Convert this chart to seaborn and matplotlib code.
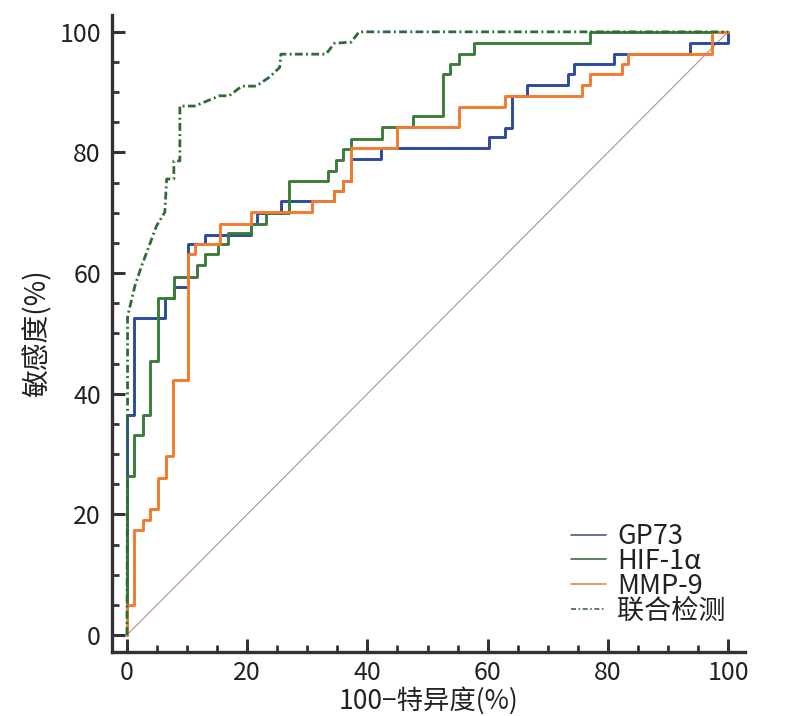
import seaborn as sns
import matplotlib.pyplot as plt
from matplotlib.lines import Line2D
from matplotlib.ticker import MultipleLocator

# Curvas ROC (x = 100-especificidad, y = sensibilidad)
# cada punto: en x se sube hasta y (escalones)
gp73_x = [0, 0, 1.2, 6.4, 7.9, 10.2, 12.9, 20.7, 21.6, 25.6, 34.5, 35.9, 37.3, 42.3,
          60.2, 62.9, 64.1, 66.6, 73.3, 74.4, 81.0, 93.7, 100.0]
gp73_y = [0, 36.5, 52.6, 55.9, 57.7, 64.8, 66.4, 68.1, 70.0, 72.0, 73.6, 75.3, 78.9, 80.8,
          82.5, 84.1, 89.4, 91.2, 93.0, 94.7, 96.4, 98.2, 100]

hif_x = [0, 0, 1.2, 2.6, 3.9, 5.1, 7.9, 11.6, 12.9, 15.1, 16.8, 20.7, 23.2, 26.9, 33.4,
         34.8, 36.0, 37.3, 42.5, 47.5, 52.6, 53.8, 55.2, 57.7, 77.1, 100]
hif_y = [0, 26.3, 33.2, 36.5, 45.4, 55.9, 59.4, 61.4, 63.1, 64.8, 66.6, 68.1, 69.9, 75.3, 77.0,
         78.7, 80.5, 82.3, 84.2, 86.0, 93.0, 94.7, 96.4, 98.2, 100, 100]

mmp_x = [0, 0, 1.2, 2.6, 3.9, 5.2, 6.5, 7.7, 10.2, 11.4, 15.4, 20.7, 30.7, 34.5, 35.9, 37.3,
         44.9, 55.2, 62.9, 75.7, 77.0, 82.3, 83.4, 97.3, 100]
mmp_y = [0, 5.0, 17.4, 19.1, 20.9, 26.1, 29.6, 42.2, 63.1, 64.8, 68.2, 70.2, 72.0, 73.6, 75.3,
         80.7, 84.2, 87.6, 89.3, 91.2, 93.0, 94.7, 96.4, 100, 100]

# Deteccion combinada (linea quebrada)
comb_x = [0, 0.1, 0.1, 1.3, 2.4, 3.5, 4.9, 6.3, 6.6, 7.8, 7.8, 8.8, 8.8, 11.3, 15.4, 17.0,
          19.1, 21.5, 23.7, 25.4, 25.6, 33.1, 34.5, 37.3, 38.6, 100]
comb_y = [0, 34, 52.8, 57.8, 61.1, 64, 67.8, 70.1, 75.6, 75.6, 78.6, 78.6, 87.7, 87.7, 89.4, 89.4,
          91, 91, 92.5, 94.1, 96.3, 96.3, 98.1, 98.3, 100, 100]

diag_x = [0, 100]
diag_y = [0, 100]

nombres = ['GP73', 'HIF-1α', 'MMP-9', '联合检测']
colores = ['#2c4b9c', '#3b7d3c', '#f37b2e', '#2e6b36']

sns.set_theme(style='ticks')
plt.rcParams['font.family'] = ['Noto Sans CJK SC', 'DejaVu Sans']
plt.rcParams['axes.unicode_minus'] = False

fig = plt.figure(figsize=(7.92, 7.16), dpi=100)
ax = fig.add_axes([0.1414, 0.0894, 0.7992, 0.8897])

# linea de referencia
sns.lineplot(x=diag_x, y=diag_y, color='#b89090', lw=0.8, ax=ax, legend=False)

sns.lineplot(x=gp73_x, y=gp73_y, drawstyle='steps-post', estimator=None, sort=False,
             color=colores[0], lw=2.1, ax=ax, legend=False)
sns.lineplot(x=hif_x, y=hif_y, drawstyle='steps-post', estimator=None, sort=False,
             color=colores[1], lw=2.1, ax=ax, legend=False)
sns.lineplot(x=mmp_x, y=mmp_y, drawstyle='steps-post', estimator=None, sort=False,
             color=colores[2], lw=2.1, ax=ax, legend=False)
sns.lineplot(x=comb_x, y=comb_y, estimator=None, sort=False,
             color=colores[3], lw=2.0, ls=(0, (2.8, 1.2, 0.7, 1.2)), ax=ax, legend=False)

ax.set_xlim(-2.49, 102.8)
ax.set_ylim(-2.82, 102.8)
ax.xaxis.set_major_locator(MultipleLocator(20))
ax.xaxis.set_minor_locator(MultipleLocator(5))
ax.yaxis.set_major_locator(MultipleLocator(20))
ax.yaxis.set_minor_locator(MultipleLocator(5))

sns.despine(ax=ax)
for lado in ['left', 'bottom']:
    ax.spines[lado].set_linewidth(2.4)
    ax.spines[lado].set_color('#333333')

ax.tick_params(which='major', direction='in', length=9.5, width=2.2, color='#333333',
               labelsize=18, labelcolor='#222222', pad=8)
ax.tick_params(axis='x', which='major', pad=6)
ax.tick_params(which='minor', direction='in', length=5, width=2.0, color='#333333')

ax.set_xlabel('100−特异度(%)', fontsize=19, color='#222222', labelpad=0.5)
ax.set_ylabel('敏感度(%)', fontsize=20, color='#222222', labelpad=5)

# leyenda con lineas delgadas
manejadores = [
    Line2D([], [], color='#4a5a8a', lw=1.2),
    Line2D([], [], color='#3f6e45', lw=1.2),
    Line2D([], [], color='#e08a55', lw=1.2),
    Line2D([], [], color='#3c6a48', lw=1.2, ls=(0, (3, 1.5, 1, 1.5))),
]
ax.legend(manejadores, nombres, loc='upper left', bbox_to_anchor=(0.7256, 0.2025),
          frameon=False, fontsize=19.5, labelspacing=-0.08, handlelength=1.3,
          handletextpad=0.4, borderpad=0, borderaxespad=0, labelcolor='#222222')

plt.savefig('out.png', dpi=100)
